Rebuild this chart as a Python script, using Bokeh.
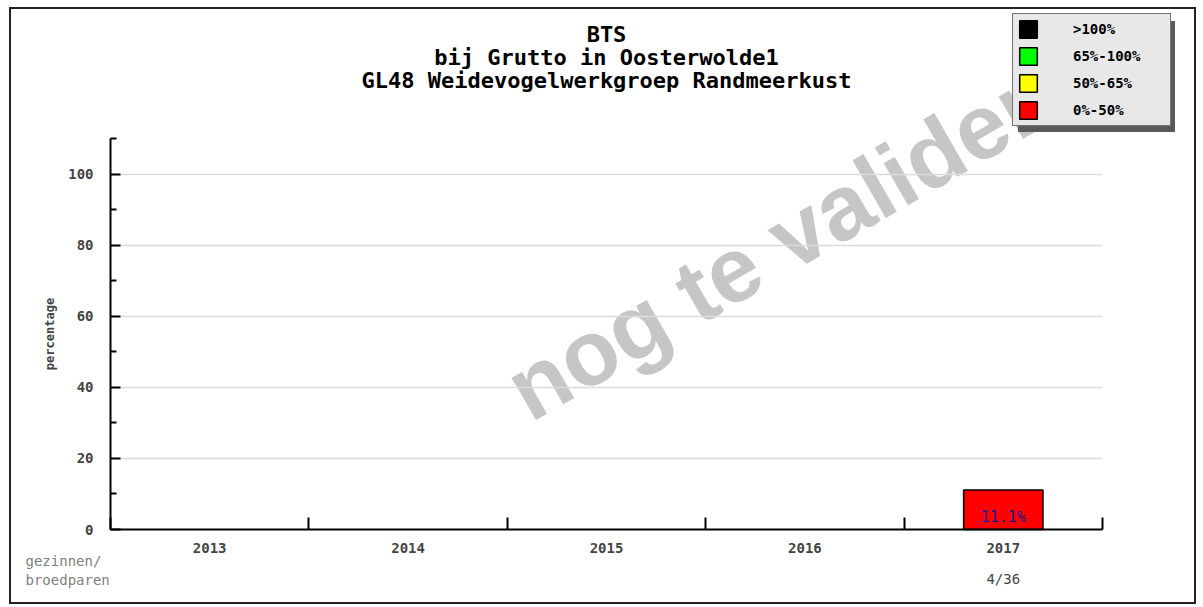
from bokeh.plotting import figure
from bokeh.models import (ColumnDataSource, FixedTicker, LinearAxis, Range1d,
                          Legend, LegendItem, Label)
from bokeh.core.properties import value
from bokeh.embed import file_html
from bokeh.resources import INLINE

# ---------------- data ----------------
years = ["2013", "2014", "2015", "2016", "2017"]
percentages = [None, None, None, None, 11.1]
counts = ["", "", "", "", "4/36"]
legend_labels = [">100%", "65%-100%", "50%-65%", "0%-50%"]
legend_colors = ["#000000", "#00ff00", "#ffff00", "#ff0000"]
legend_limits = [100, 65, 50, 0]
y_major = [0, 20, 40, 60, 80, 100]
y_minor = [10, 30, 50, 70, 90, 110]
y_max = 110
title_lines = ["BTS", "bij Grutto in Oosterwolde1",
               "GL48 Weidevogelwerkgroep Randmeerkust"]
watermark_text = "nog te valideren"
row_caption = "gezinnen/\nbroedparen"
y_label = "percentage"

MONO = "DejaVu Sans Mono"

# ---------------- layout (pixels) ----------------
CANVAS_W, CANVAS_H = 1183, 593
CANVAS_X0, CANVAS_Y0 = 11, 9          # page position of canvas
AX_LEFT, AX_RIGHT = 110, 1102         # page x of data x=0 and x=len(years)
AX_BOTTOM, AX_TOP = 529, 138          # page y of data y=0 and y=y_max

n = len(years)
xs = (AX_RIGHT - AX_LEFT) / n          # px per x unit
ys = (AX_BOTTOM - AX_TOP) / y_max      # px per y unit


def dx(px):
    return (px - AX_LEFT) / xs


def dy(py):
    return (AX_BOTTOM - py) / ys


def class_color(v):
    for lim, col in zip(legend_limits, legend_colors):
        if v > lim or lim == 0:
            return col
    return legend_colors[-1]


centers = [i + 0.5 for i in range(n)]
bounds = [i for i in range(n + 1)]

bar_x = [c for c, v in zip(centers, percentages) if v is not None]
bar_top = [v for v in percentages if v is not None]
bar_col = [class_color(v) for v in bar_top]
bar_txt = [f"{v:.1f}%" for v in bar_top]
bar_src = ColumnDataSource(dict(x=bar_x, top=bar_top, color=bar_col,
                                label=bar_txt, base=[0] * len(bar_x)))

p = figure(width=CANVAS_W, height=CANVAS_H, frame_width=CANVAS_W, frame_height=CANVAS_H,
           output_backend="svg", toolbar_location=None,
           x_range=Range1d(dx(CANVAS_X0), dx(CANVAS_X0 + CANVAS_W)),
           y_range=Range1d(dy(CANVAS_Y0 + CANVAS_H), dy(CANVAS_Y0)),
           min_border=0)
p.styles = {"border": "2px solid #222", "margin-left": "9px", "margin-top": "7px"}
p.title.visible = False
p.outline_line_color = None
p.background_fill_color = "white"
p.border_fill_color = "white"

# watermark (below grid)
wm = Label(x=dx(514), y=dy(395), text=watermark_text, angle=30, angle_units="deg",
           text_font="Liberation Sans", text_font_size="92px", text_font_style="bold",
           text_color="#c6c6c6", text_align="left", text_baseline="alphabetic",
           level="image")
p.add_layout(wm)

# title lines
for line, py in zip(title_lines, [34, 57, 80]):
    p.add_layout(Label(x=n / 2, y=dy(py), text=line, text_align="center",
                       text_baseline="alphabetic", text_font=MONO,
                       text_font_size="22px", text_font_style="bold",
                       text_color="black"))

# bars
p.vbar(x="x", top="top", width=0.4, bottom=0, source=bar_src,
       fill_color="color", line_color="black", line_width=1.5)
p.text(x="x", y="base", text="label", source=bar_src, text_align="center",
       text_baseline="bottom", y_offset=-4, text_color="#1a1a90",
       text_font=value(MONO), text_font_size="15px")

# y axis
yax = p.yaxis[0]
yax.fixed_location = 0
yax.bounds = (0, y_max)
yax.ticker = FixedTicker(ticks=y_major, minor_ticks=y_minor)
yax.axis_line_width = 2
yax.axis_line_color = "black"
yax.major_tick_in = 10
yax.major_tick_out = 0
yax.minor_tick_in = 6
yax.minor_tick_out = 0
yax.major_tick_line_width = 2
yax.minor_tick_line_width = 2
yax.major_label_text_font = MONO
yax.major_label_text_font_size = "14px"
yax.major_label_text_font_style = "bold"
yax.major_label_standoff = 17
yax.axis_label = y_label
yax.axis_label_text_font = MONO
yax.axis_label_text_font_size = "12px"
yax.axis_label_text_font_style = "bold"
yax.axis_label_standoff = 8

# x axis: labels at centers, boundary marks as minor ticks
xax = p.xaxis[0]
xax.fixed_location = 0
xax.bounds = (0, n)
xax.ticker = FixedTicker(ticks=centers, minor_ticks=bounds)
xax.major_label_overrides = {c: y for c, y in zip(centers, years)}
xax.axis_line_width = 2
xax.axis_line_color = "black"
xax.major_tick_line_color = None
xax.minor_tick_in = 12
xax.minor_tick_out = 0
xax.minor_tick_line_width = 2
xax.major_label_text_font = MONO
xax.major_label_text_font_size = "14px"
xax.major_label_text_font_style = "bold"
xax.major_label_standoff = 7

# second row: counts
cnt_ticks = [c for c, k in zip(centers, counts) if k]
xax2 = LinearAxis(ticker=FixedTicker(ticks=cnt_ticks), fixed_location=0,
                  major_label_overrides={c: k for c, k in zip(centers, counts) if k})
xax2.axis_line_color = None
xax2.major_tick_line_color = None
xax2.minor_tick_line_color = None
xax2.major_label_text_font = MONO
xax2.major_label_text_font_size = "14px"
xax2.major_label_standoff = 35
p.add_layout(xax2, "below")

cap = Label(x=dx(25), y=dy(552), text=row_caption, text_font=MONO,
            text_font_size="14px", text_color="#808080",
            text_align="left", text_baseline="top")
p.add_layout(cap)

# grid
p.xgrid.visible = False
g = p.ygrid[0]
g.ticker = FixedTicker(ticks=[t for t in y_major if t > 0])
g.grid_line_color = "#dcdcdc"
g.grid_line_width = 1.5
if "cross_bounds" in g.properties():
    g.cross_bounds = (0, n)

# legend (shadow + main); legend-only renderers hold one undrawable point
NAN = float("nan")
shadow_items = []
main_items = []
for lab, col in zip(legend_labels, legend_colors):
    src = ColumnDataSource(dict(x=[NAN], top=[NAN]))
    r = p.vbar(x="x", top="top", width=0.4, source=src, fill_color=col,
               line_color="black", line_width=1.5)
    main_items.append(LegendItem(label=lab, renderers=[r]))
    src2 = ColumnDataSource(dict(x=[NAN], top=[NAN]))
    r2 = p.vbar(x="x", top="top", width=0.4, source=src2, fill_alpha=0,
                line_alpha=0)
    shadow_items.append(LegendItem(label="", renderers=[r2]))


def make_legend(items, loc, shadow=False):
    lg = Legend(items=items, location=loc, orientation="vertical",
                padding=4, spacing=5, glyph_width=22, glyph_height=22,
                label_standoff=34, label_width=93, margin=0,
                label_text_font=MONO, label_text_font_size="14px",
                label_text_font_style="bold")
    if shadow:
        lg.background_fill_color = "#5a5a5a"
        lg.background_fill_alpha = 1
        lg.border_line_alpha = 0
        lg.label_text_alpha = 0
    else:
        lg.background_fill_color = "#e8e8e8"
        lg.background_fill_alpha = 1
        lg.border_line_color = "black"
        lg.border_line_width = 1.5
        lg.label_text_color = "black"
    return lg


LEG_X, LEG_BOTTOM = 1012, 126
p.add_layout(make_legend(shadow_items, (LEG_X - CANVAS_X0 + 6, CANVAS_Y0 + CANVAS_H - LEG_BOTTOM - 6), shadow=True))
p.add_layout(make_legend(main_items, (LEG_X - CANVAS_X0, CANVAS_Y0 + CANVAS_H - LEG_BOTTOM)))

open("out.html", "w").write(file_html(p, INLINE))
